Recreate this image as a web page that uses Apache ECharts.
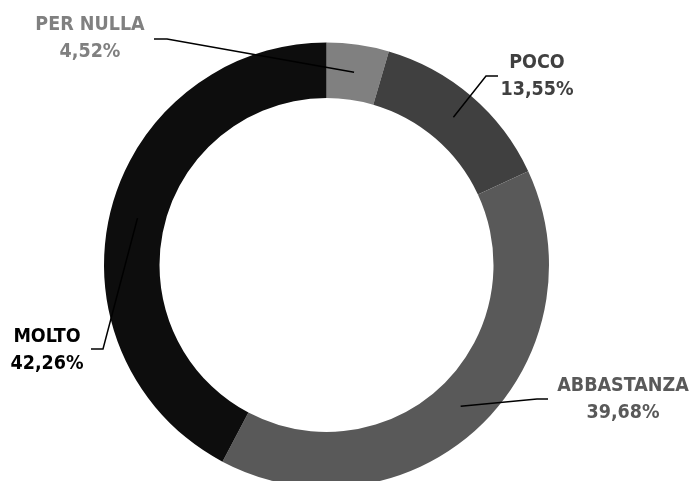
<!DOCTYPE html>
<html>
<head>
<meta charset="utf-8">
<script src="https://cdn.jsdelivr.net/npm/echarts@6/dist/echarts.min.js"></script>
<style>
html,body{margin:0;padding:0;background:#fff;}
#chart{width:697px;height:481px;}
</style>
</head>
<body>
<div id="chart"></div>
<script>
const categories = ['PER NULLA', 'POCO', 'ABBASTANZA', 'MOLTO'];
const values = [4.52, 13.55, 39.68, 42.26];
const sliceColors = ['#808080', '#404040', '#595959', '#0d0d0d'];
const labelColors = ['#808080', '#404040', '#595959', '#000000'];

// label placement (style only)
const labelSpots = [
  { x: 90, y: 38, elbow: [167, 39], end: [154, 39] },
  { x: 537, y: 76, elbow: [486, 76], end: [498, 76] },
  { x: 623, y: 399, elbow: [537, 399], end: [548, 399] },
  { x: 47, y: 350, elbow: [103, 349], end: [91, 349] }
];

const CX = 326.5, CY = 265, R_IN = 167, R_OUT = 222.5;
const R_MID = (R_IN + R_OUT) / 2;

const chart = echarts.init(document.getElementById('chart'), null, { renderer: 'canvas' });

const ringData = categories.map((name, i) => ({
  name: name,
  value: values[i],
  itemStyle: { color: sliceColors[i] }
}));
const labelData = categories.map((name, i) => ({
  name: name,
  value: values[i],
  itemStyle: { color: 'rgba(0,0,0,0)' },
  label: { color: labelColors[i] }
}));

const base = {
  type: 'pie',
  center: [CX, CY],
  radius: [R_IN, R_OUT],
  startAngle: 90,
  clockwise: true,
  avoidLabelOverlap: false,
  silent: true
};

chart.setOption({
  animation: false,
  backgroundColor: '#ffffff',
  series: [
    Object.assign({}, base, {
      z: 2,
      itemStyle: { borderWidth: 0 },
      label: { show: false },
      labelLine: { show: false },
      data: ringData
    }),
    Object.assign({}, base, {
      z: 5,
      itemStyle: { borderWidth: 0 },
      label: {
        show: true,
        position: 'outside',
        fontFamily: "'DejaVu Sans Condensed', 'Liberation Sans', sans-serif",
        fontWeight: 'bold',
        fontSize: 19.5,
        lineHeight: 27,
        align: 'center',
        formatter: function (p) {
          return p.name + '\n' + p.value.toFixed(2).replace('.', ',') + '%';
        }
      },
      labelLine: {
        show: true,
        length: 10,
        length2: 10,
        lineStyle: { color: '#000000', width: 1.5 }
      },
      labelLayout: function (params) {
        const s = labelSpots[params.dataIndex];
        const p0 = params.labelLinePoints ? params.labelLinePoints[0] : [CX, CY];
        const dx = p0[0] - CX, dy = p0[1] - CY;
        const d = Math.sqrt(dx * dx + dy * dy) || 1;
        const start = [CX + dx / d * R_MID, CY + dy / d * R_MID];
        return {
          x: s.x,
          y: s.y,
          align: 'center',
          verticalAlign: 'middle',
          labelLinePoints: [start, s.elbow, s.end]
        };
      },
      data: labelData
    })
  ]
});
</script>
</body>
</html>
